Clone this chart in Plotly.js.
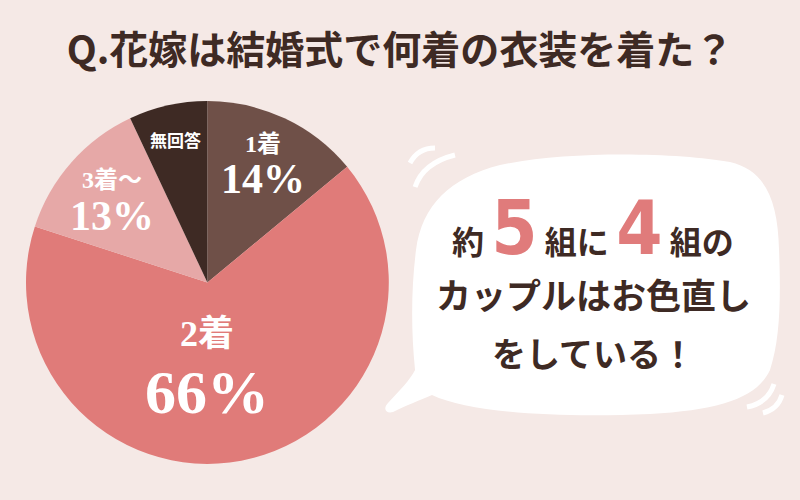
<!DOCTYPE html>
<html>
<head>
<meta charset="utf-8">
<script src="https://cdn.plot.ly/plotly-3.0.1.min.js"></script>
<style>
  body { margin: 0; background: #f5e9e6; }
  #chart { width: 800px; height: 500px; }
</style>
</head>
<body>
<div id="chart"></div>
<script>
// data
var labels = ['1着', '2着', '3着～', '無回答'];
var values = [14, 66, 13, 7];
var percentText = ['14%', '66%', '13%', ''];
var colors = ['#6f5048', '#e07b79', '#e6a8a7', '#3e2a24'];

var titleText = 'Q.花嫁は結婚式で何着の衣装を着た？';
var bubbleLines = ['約 <span style="font-family:\'Liberation Sans Narrow\',\'DejaVu Sans Condensed\';font-size:74px;color:#e07b7b">5</span> 組に <span style="font-family:\'Liberation Sans Narrow\',\'DejaVu Sans Condensed\';font-size:74px;color:#e07b7b">4</span> 組の',
    'カップルはお色直し',
    'をしている！'];

var W = 800, H = 500;
var brown = '#3e2a24';
var bg = '#f5e9e6';
var jp = '"Noto Sans CJK JP", sans-serif';
var serif = '"Liberation Serif", "Noto Sans CJK JP", serif';

// label placement inside the slices (fraction of radius, angle nudge, sizes)
var labelR = [0.72, 0.45, 0.70, 0.81];
var labelNudge = [0, 11, 0, 0];
var nameSize = [24, 36, 24, 17];
var pctSize = [42, 62, 42, 0];
var nameShift = [20, 30, 19, 0];
var pctShift = [-15, -28, -17, 0];

var pieDomain = {x: [0.0325, 0.486], y: [0.071, 0.799]};

function pt(x, y) {
    return (x / W).toFixed(4) + ',' + (1 - y / H).toFixed(4);
}

function path(list) {
    var s = '';
    list.forEach(function (c) {
        s += c[0];
        for (var i = 1; i < c.length; i += 2) {
            s += (i > 1 ? ' ' : '') + pt(c[i], c[i + 1]);
        }
        s += ' ';
    });
    return s + 'Z';
}

var bubble = path([
    ['M', 415, 370],
    ['C', 411, 330, 411, 290, 416, 250],
    ['C', 422, 205, 450, 178, 500, 165],
    ['C', 570, 150, 680, 153, 730, 162],
    ['C', 765, 170, 778, 200, 779, 250],
    ['C', 781, 300, 780, 340, 770, 370],
    ['C', 757, 398, 720, 410, 650, 414],
    ['C', 560, 418, 470, 413, 432, 395],
    ['C', 420, 400, 405, 406, 393, 412],
    ['C', 385, 414, 383, 408, 388, 403],
    ['C', 400, 390, 410, 380, 415, 370]
]);

function arc(x0, y0, cx, cy, x1, y1) {
    return {
        type: 'path', xref: 'paper', yref: 'paper',
        path: 'M' + pt(x0, y0) + ' Q' + pt(cx, cy) + ' ' + pt(x1, y1),
        line: {color: '#ffffff', width: 5}
    };
}

var shapes = [
    {type: 'path', xref: 'paper', yref: 'paper', path: bubble,
        fillcolor: '#ffffff', line: {width: 0}, layer: 'below'},
    arc(410, 163, 418, 148, 435, 148),
    arc(415, 187, 423, 163, 455, 155),
    arc(747, 407, 768, 403, 774, 384),
    arc(763, 413, 778, 409, 782, 395)
];

// slice labels placed from the data angles
var annotations = [];
var total = values.reduce(function (a, b) { return a + b; }, 0);
var cx = (pieDomain.x[0] + pieDomain.x[1]) / 2 * W;
var cy = (1 - (pieDomain.y[0] + pieDomain.y[1]) / 2) * H;
var R = Math.min((pieDomain.x[1] - pieDomain.x[0]) * W, (pieDomain.y[1] - pieDomain.y[0]) * H) / 2;
var cum = 0;
for (var i = 0; i < values.length; i++) {
    var mid = (cum + values[i] / 2) / total * 360 + labelNudge[i];
    cum += values[i];
    var a = mid * Math.PI / 180;
    var px = cx + R * labelR[i] * Math.sin(a);
    var py = cy - R * labelR[i] * Math.cos(a);
    annotations.push({
        x: px / W, y: 1 - py / H, xref: 'paper', yref: 'paper',
        xanchor: 'center', yanchor: 'middle',
        text: labels[i], showarrow: false, yshift: nameShift[i],
        font: {family: i == 3 ? jp : serif, size: nameSize[i], color: '#ffffff', weight: 'bold'}
    });
    if (percentText[i]) {
        annotations.push({
            x: px / W, y: 1 - py / H, xref: 'paper', yref: 'paper',
            xanchor: 'center', yanchor: 'middle',
            text: percentText[i], showarrow: false, yshift: pctShift[i],
            font: {family: serif, size: pctSize[i], color: '#ffffff', weight: 'bold'}
        });
    }
}

var bubbleY = [228, 293, 352];
var bubbleSize = [32, 35, 34];
bubbleLines.forEach(function (t, k) {
    annotations.push({
        x: 593 / W, y: 1 - bubbleY[k] / H, xref: 'paper', yref: 'paper',
        xanchor: 'center', yanchor: 'middle',
        text: t, showarrow: false,
        font: {family: jp, size: bubbleSize[k], color: brown, weight: 'bold'}
    });
});

var data = [{
    type: 'pie',
    labels: labels,
    values: values,
    sort: false,
    direction: 'clockwise',
    rotation: 0,
    textinfo: 'none',
    hoverinfo: 'skip',
    marker: {colors: colors, line: {width: 0}},
    domain: pieDomain,
    showlegend: false
}];

var layout = {
    width: W, height: H,
    margin: {l: 0, r: 0, t: 0, b: 0},
    paper_bgcolor: bg,
    plot_bgcolor: bg,
    showlegend: false,
    title: {
        text: titleText,
        x: 0.5, xanchor: 'center',
        y: 1 - 50 / H, yanchor: 'middle',
        font: {family: jp, size: 39, color: brown, weight: 'bold'}
    },
    shapes: shapes,
    annotations: annotations
};

Plotly.newPlot('chart', data, layout, {displayModeBar: false, staticPlot: true});
</script>
</body>
</html>
